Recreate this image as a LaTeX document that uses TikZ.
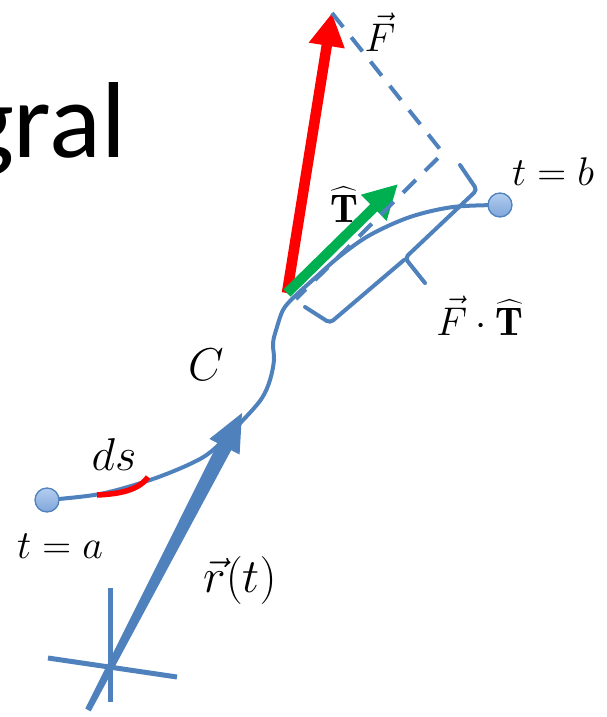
\RequirePackage{fix-cm}
\documentclass[tikz,border=0pt]{standalone}
\usepackage{amsmath}
\usepackage{fontspec}
\newfontfamily\calib{Carlito}
\usetikzlibrary{arrows.meta}
\definecolor{cblue}{HTML}{4F81BD}
\definecolor{cgreen}{HTML}{00B050}
\definecolor{dotlight}{HTML}{B3CDEF}
\definecolor{dotdark}{HTML}{7FA6DB}
\newcommand{\hatT}{\widehat{\mathbf{T}}}
\begin{document}
\begin{tikzpicture}[x=1pt,y=-1pt,
  curve/.style={cblue, line width=4pt, line cap=round},
  lab/.style={anchor=base, inner sep=0pt, font=\fontsize{40}{48}\selectfont},
  labbig/.style={anchor=base, inner sep=0pt, font=\fontsize{46}{54}\selectfont},
  dotnode/.style={circle, draw=cblue, line width=1.3pt, top color=dotlight, bottom color=dotdark, minimum size=24pt, inner sep=0pt},
  projdash/.style={cblue, line width=4pt, dash pattern=on 18pt off 13pt},
  bracestyle/.style={cblue, line width=4pt, rounded corners=4pt, line cap=round},
  crossline/.style={cblue, line width=5pt}]
\useasboundingbox (0,0) rectangle (606,717);

% title fragment
\node[anchor=base east, inner sep=0pt, font=\calib\fontsize{108}{120}\selectfont] (title) at (126,157) {gral};

% origin cross
\coordinate (crossT) at (110,588);
\coordinate (crossB) at (110,702);
\coordinate (crossL) at (48,658);
\coordinate (crossR) at (177,677);
\draw[crossline] (crossT) -- (crossB);
\draw[crossline] (crossL) -- (crossR);

% position vector r(t), tapered arrow
\fill[cblue] (85.3,708.6) -- (217.8,443.3) -- (209.4,438.9) -- (242,413) -- (239.6,454.5) -- (231.2,450.2) -- (90.7,711.4) -- cycle;

% curve C
\draw[curve] plot[smooth, tension=0.55] coordinates {(47,500) (100,494) (150,480) (190,464) (213,450) (245,418) (262,398) (270,380) (274,360) (273,343) (277,327) (283,310) (293,298) (315,278) (340,256) (370,235) (410,217) (453,207) (500,205)};

% ds segment
\draw[red, line width=5.5pt] (97,495) .. controls (120,494) and (139,490) .. (148,477);

% endpoints
\node[dotnode] (a) at (47,500) {};
\node[dotnode] (b) at (500,205) {};

% force vector F
\coordinate (P) at (287,293);
\coordinate (Ftip) at (332,13);
\coordinate (Ttip) at (398,184);
\coordinate (foot) at (443,153);
\coordinate (dashend) at (296,299);
\draw[red, line width=10.5pt, -{Triangle[length=33pt,width=34pt]}] (P) -- (Ftip);
\draw[cgreen, line width=10pt, -{Triangle[length=34pt,width=34pt]}] (P) -- (Ttip);

% projection dashed line
\draw[projdash] (Ftip) -- (foot) -- (dashend);

% brace for F dot T
\draw[bracestyle] (460,165) -- (477,190) -- (405,258) -- (425,283);
\draw[bracestyle] (404,260) -- (330,323) -- (305,307);

% labels
\node[lab] (Flab) at (380,52) {$\vec{F}$};
\node[lab] (Tlab) at (344,222) {$\hatT$};
\node[lab, anchor=base west] (tb) at (512,185) {$t=b$};
\node[lab] (FT) at (480,335) {$\vec{F}\cdot\hatT$};
\node[labbig] (C) at (206,380) {$C$};
\node[labbig] (ds) at (114,470) {$ds$};
\node[lab, anchor=base west] (ta) at (17,558) {$t=a$};
\node[labbig, font=\fontsize{48}{56}\selectfont] (r) at (240,592) {$\vec{r}(t)$};
\end{tikzpicture}
\end{document}
